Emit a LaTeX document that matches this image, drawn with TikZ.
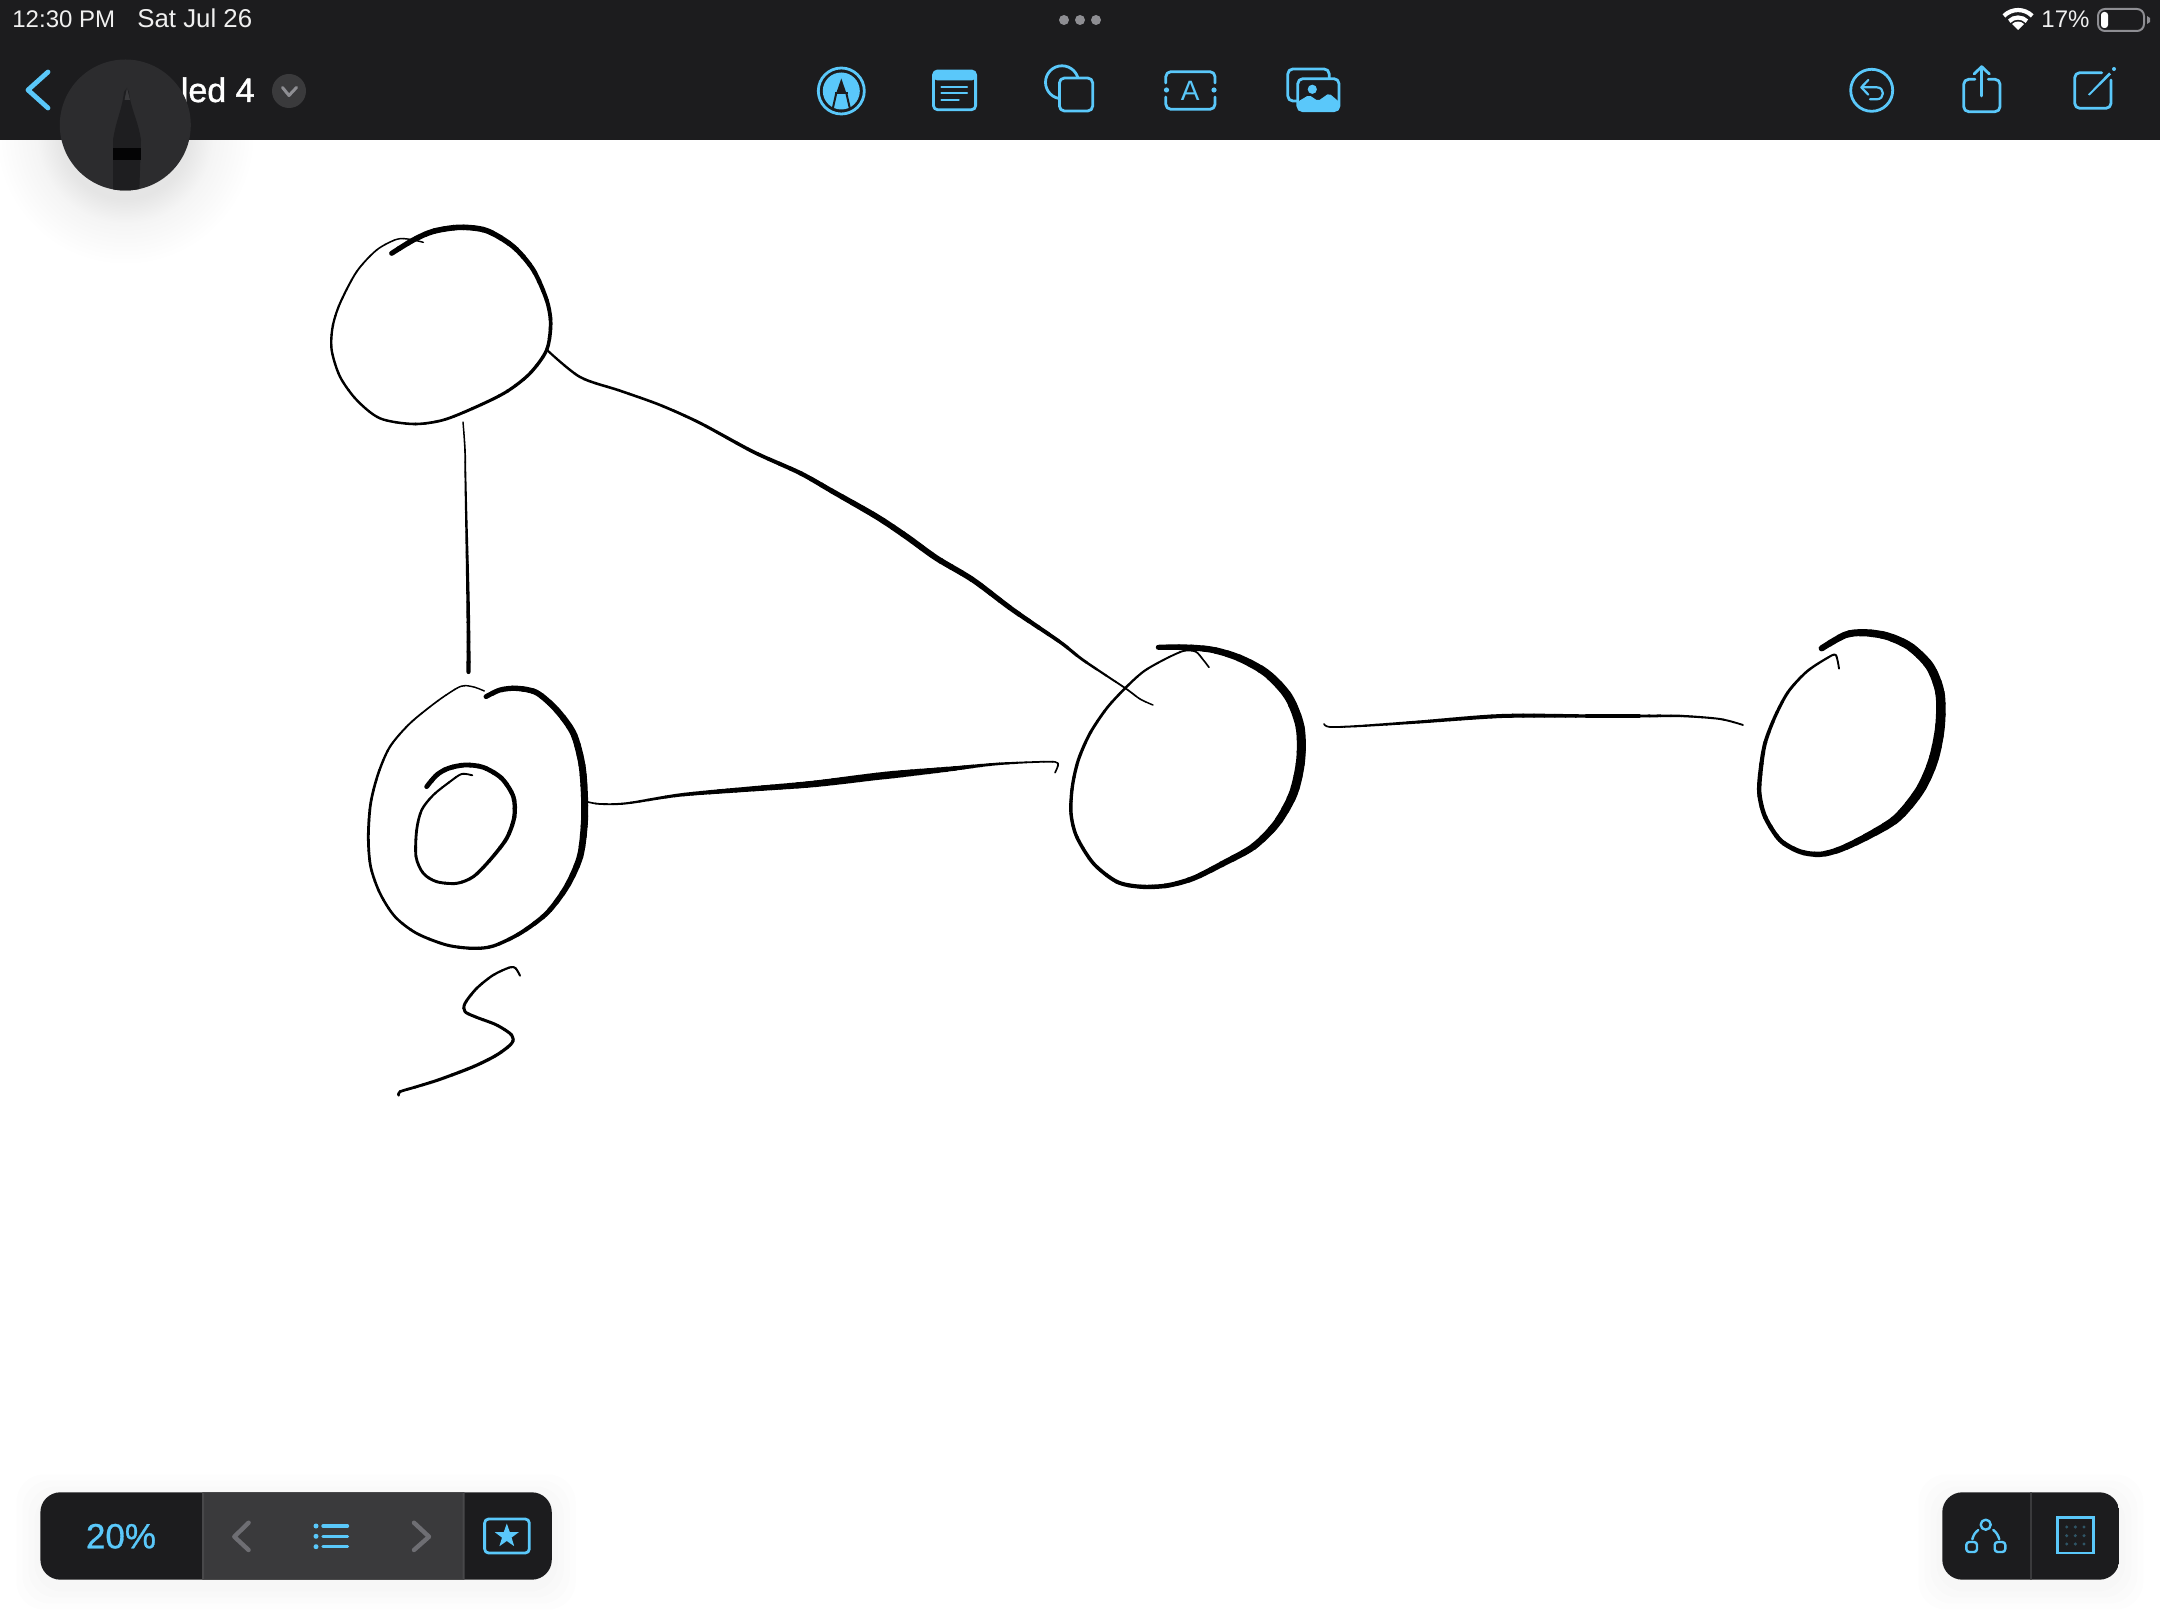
\documentclass[tikz,border=0pt]{standalone}
\usepackage{fontspec}
\setmainfont{Liberation Sans}
\newfontfamily\medfont[FakeBold=1.2]{Liberation Sans}
\newfontfamily\numfont[FakeBold=0.8]{Liberation Sans}
\definecolor{barbg}{HTML}{1C1C1E}
\definecolor{midbg}{HTML}{3A3A3C}
\definecolor{divbg}{HTML}{48484A}
\definecolor{ui}{HTML}{5AC8FA}
\definecolor{mutegray}{HTML}{6E6E73}
\definecolor{dotgray}{HTML}{8E8E93}
\definecolor{penbg}{HTML}{2C2C2E}
\definecolor{griddot}{HTML}{2F5566}
\pgfdeclareradialshading{softshadow}{\pgfpoint{0bp}{0bp}}{rgb(0bp)=(0.87,0.87,0.87);rgb(12.5bp)=(0.90,0.90,0.90);rgb(17bp)=(0.96,0.96,0.96);rgb(25bp)=(1,1,1);rgb(50bp)=(1,1,1)}
\tikzset{
  ink/.style={black,line cap=round,line join=round},
  zoomA/.style={x=0.16667pt,y=-0.16667pt},
  uiline/.style={draw=ui,line width=1.4pt,line cap=round,line join=round},
  uithin/.style={draw=ui,line width=1.1pt,line cap=round,line join=round},
  chev/.style={draw=mutegray,line width=2.2pt,line cap=round,line join=round},
  statustext/.style={text=white!94!black,font=\fontsize{12}{14}\selectfont,inner sep=0pt,anchor=base west},
}
% variable-width stroke: one smooth path (length #1 in pt), shown piecewise along its length
\newcommand\vs[3]{%
  \pgfmathtruncatemacro\vsnint{dim({#2})-1}
  \pgfmathtruncatemacro\vsn{\vsnint*5}
  \pgfmathsetmacro\vsunit{#1/\vsn}
  \foreach \vsi in {1,...,\vsn}{
    \pgfmathsetmacro\vst{(\vsi-0.5)/5}
    \pgfmathtruncatemacro\vsa{floor(\vst)}
    \pgfmathtruncatemacro\vsb{\vsa+1}
    \pgfmathsetmacro\vsf{\vst-\vsa}
    \pgfmathsetmacro\vsw{{#2}[\vsa]*(1-\vsf)+{#2}[\vsb]*\vsf}
    \pgfmathsetmacro\vsl{\vsi==\vsn ? \vsunit+30 : \vsunit+0.15}
    \pgfmathsetmacro\vss{\vsunit*(\vsi-1)}
    \pgfmathsetmacro\vsp{3000+\vsl-\vss}
    \draw[ink,line width=\vsw*0.5pt,dash pattern=on \vsl pt off 3000pt,dash phase=\vsp pt] plot[smooth] coordinates {#3};
  }
}
\begin{document}
\begin{tikzpicture}[x=0.5pt,y=-0.5pt]
\useasboundingbox (0,0) rectangle (2160,1620);
\fill[white] (0,0) rectangle (2160,1620);

% ---------- hand-drawn graph ----------
% vertex top-left
\begin{scope}[shift={(320,200)},zoomA]
\vs{345}{1.4,1.6,2,2.4,2.4,2.4,2.6,3,3.2,3.4,4,4.8,5.6,5.6,5}{(310,127)(270,118)(230,118)(170,150)(110,215)(60,310)(38,380)(35,450)(60,530)(110,600)(180,655)(280,672)(370,660)(470,620)(560,575)(630,520)(680,450)(692,370)(680,300)(640,210)(580,140)(500,92)(420,82)(340,94)(280,120)(215,160)}
\end{scope}
% vertex s, outer, inner ring and label
\begin{scope}[shift={(350,660)},zoomA]
\vs{385}{1.4,1.6,2,2.6,2.8,2.6,2.6,3,3.4,4.6,6,7,7,6.4,5.6,4.8}{(403,93)(375,82)(345,77)(320,85)(260,125)(180,190)(120,260)(85,340)(62,430)(55,530)(62,620)(90,700)(135,770)(200,820)(290,855)(370,865)(430,858)(510,820)(590,760)(650,680)(690,590)(703,490)(703,400)(695,310)(670,220)(620,150)(560,98)(500,85)(450,90)(408,110)}
\vs{194}{1.8,2.2,2.8,2.8,3,3.6,4.2,4.6,4.8,4.8}{(367,346)(335,342)(300,365)(250,405)(215,450)(200,510)(198,590)(220,640)(260,665)(320,670)(370,650)(420,600)(470,535)(493,470)(490,410)(455,355)(400,322)(345,315)(295,325)(260,345)(230,380)}
\vs{137}{2,2.4,3,3,3.2,3.2,3,2.6}{(510,947)(497,925)(480,922)(430,945)(380,985)(345,1030)(345,1055)(380,1072)(440,1095)(485,1125)(485,1150)(440,1185)(370,1220)(270,1258)(200,1280)(150,1295)(146,1306)}
\end{scope}
% vertex middle
\begin{scope}[shift={(1040,620)},zoomA]
\vs{396}{1.6,2,2.6,3.2,3.4,3.6,4.4,5.6,7,9,9,8,6.4,5}{(507,142)(490,120)(467,95)(430,93)(370,120)(310,155)(255,205)(200,265)(150,340)(115,420)(97,500)(93,580)(110,650)(160,730)(230,785)(300,800)(380,797)(460,775)(550,730)(640,680)(710,610)(760,520)(782,420)(780,320)(745,230)(680,160)(600,115)(520,90)(440,82)(355,82)}
\end{scope}
% vertex right
\begin{scope}[shift={(1720,610)},zoomA]
\vs{327}{1.8,2.6,3.4,4.4,4.4,5.2,7,9,10,9.5,8.5,7.4,6}{(357,176)(347,135)(320,145)(260,185)(205,245)(165,320)(135,400)(122,480)(118,550)(135,620)(180,690)(240,725)(300,733)(360,718)(440,680)(530,625)(600,540)(640,450)(660,350)(660,250)(630,170)(570,110)(500,78)(430,68)(375,75)(305,115)}
\end{scope}

% connectors
\coordinate (e1a) at (463,422);
\coordinate (e1b) at (468.5,672);
\vs{125}{1.4,1.8,2.4,3,3.6,4.2}{(e1a)(465,450)(465.5,482)(467,551)(468,600)(468.5,640)(e1b)}

\coordinate (e2a) at (547,350);
\coordinate (e2b) at (1153,705);
\vs{355}{2.2,2.6,2.6,3,3.6,4.6,5.6,6,5.6,5,3.6,2,1.4}{(e2a)(580,377)(620,390.7)(660,405)(700,423)(753,451.7)(800,473)(833,491.7)(876.7,516.7)(906.7,536.7)(936.7,558.3)(973,580)(1013,610)(1060,642)(1083,660)(1125,688)(1140,699)(e2b)}

\coordinate (e3a) at (586.7,801.7);
\coordinate (e3b) at (1055,772.7);
\vs{243}{1.6,2.2,3.2,4.4,5.4,6.4,7.2,7.4,5.4,3,1.8,1.6}{(e3a)(600,804)(626.7,803.3)(680,795)(746.7,789.3)(813,784)(880,776)(946.7,769.3)(996.7,764)(1046.7,761.7)(1058,763.3)(e3b)}

\coordinate (e4a) at (1324,724);
\coordinate (e4b) at (1743,725);
\vs{211}{1.6,2.4,3.2,4,4,3.4,3,2.2,1.8}{(e4a)(1330,727)(1360,726)(1419,722)(1502,716)(1584,716)(1640,716)(1681,716)(1720,719)(e4b)}

% ---------- top bar ----------
\shade[shading=softshadow] (125,135) circle [radius=130];
\fill[barbg] (0,0) rectangle (2160,140);
\node[statustext] (clock) at (12,28) {12:30 PM};
\node[statustext,font=\fontsize{12.9}{14}\selectfont] (date) at (137,28) {Sat Jul 26};
\fill[dotgray] (1064,20) circle [radius=5] (1080,20) circle [radius=5] (1096,20) circle [radius=5];
\node[statustext] (batt) at (2041,28) {17\%};
% wifi
\draw[white,line width=2.1pt] (2003.9,15.9) arc [start angle=-135,end angle=-45,radius=20];
\draw[white,line width=2.1pt] (2009.2,21.2) arc [start angle=-135,end angle=-45,radius=12.5];
\fill[white] (2018,30) -- (2012,24) arc [start angle=-135,end angle=-45,radius=8.5] -- cycle;
% battery
\draw[dotgray,line width=1pt,rounded corners=3.5pt] (2098,9) rectangle (2144,31);
\fill[white,rounded corners=1.5pt] (2101,12) rectangle (2108,28);
\fill[dotgray] (2147,16) -- (2150,18) -- (2150,22) -- (2147,24) -- cycle;
% back, title
\draw[uiline,line width=2.4pt] (48,72) -- (28,90) -- (48,108);
\node[font=\medfont\fontsize{17}{20}\selectfont,text=white,inner sep=0pt,anchor=base east] (title) at (255,102) {led 4};
\fill[midbg] (289,91) circle [radius=17];
\draw[dotgray,line width=1.5pt,line cap=round,line join=round] (282.5,87.5) -- (289,95.5) -- (296.5,87.5);
% pencil button
\fill[penbg] (125.3,125) circle [radius=65.5];
\begin{scope}
\clip (125.3,125) circle [radius=65.5];
\fill[barbg!85!penbg] (113,200) -- (113,140) .. controls (116,120) and (122,110) .. (124,92) -- (127,88) -- (129,92) .. controls (131,110) and (138,120) .. (141,140) -- (139,200) -- cycle;
\fill[midbg] (124.5,100) -- (127,88) -- (130,100) -- cycle;
\fill[black!85!barbg] (113,148) rectangle (141,160);
\end{scope}
% tool icons
\draw[uiline] (841.3,91) circle [radius=23];
\fill[ui] (841.3,91) circle [radius=18.5];
\fill[barbg] (841.3,78.5) -- (846.5,93.5) -- (836.1,93.5) -- cycle;
\draw[barbg,line width=1pt] (836.3,93) -- (832.7,109) (846.3,93) -- (850,109);
\draw[barbg,line width=1pt] (835,93.5) -- (847.6,93.5);
\draw[uiline,rounded corners=2pt] (933.5,71) rectangle (975.6,109.7);
\fill[ui,rounded corners=2pt] (933.5,71) rectangle (975.6,80.5);
\draw[uithin] (941.5,86.7) -- (967,86.7) (941.5,93.3) -- (967,93.3) (941.5,100.3) -- (958.7,100.3);
\draw[uiline] (1062,82.3) circle [radius=16.5];
\draw[uiline,fill=barbg,rounded corners=2.5pt] (1059.4,78) rectangle (1092.7,111);
\draw[uiline,rounded corners=2.5pt] (1165.8,83) -- (1165.8,71.7) -- (1215,71.7) -- (1215,83) (1215,97) -- (1215,109.3) -- (1165.8,109.3) -- (1165.8,97);
\fill[ui] (1166.5,90) circle [radius=2.6] (1214,90) circle [radius=2.6];
\node[font=\fontsize{14}{16}\selectfont,text=ui,inner sep=0pt] (iconA) at (1190.3,90.5) {A};
\draw[uiline,rounded corners=2.5pt] (1297,101) -- (1287.8,101) -- (1287.8,69) -- (1329.2,69) -- (1329.2,78);
\draw[uiline,fill=barbg,rounded corners=2.5pt] (1297.8,78.7) rectangle (1339,110.7);
\fill[ui,rounded corners=1pt] (1297.8,101.7) -- (1309,95) -- (1318,101) -- (1329,93.3) -- (1339,101.7) -- (1339,110.7) -- (1297.8,110.7) -- cycle;
\fill[ui] (1312.3,89.3) circle [radius=4.6];
% undo
\draw[uiline] (1871.7,90.3) circle [radius=21];
\draw[uithin] (1868.3,80) -- (1861.3,87.3) -- (1868.3,94.7);
\draw[uithin] (1861.3,87.3) -- (1876.7,87.3) .. controls (1885,87.3) and (1885,99.3) .. (1876.7,99.3) -- (1870,99.3);
% share
\draw[uiline,rounded corners=2.5pt] (1975,79.3) -- (1963.7,79.3) -- (1963.7,111.7) -- (2000,111.7) -- (2000,79.3) -- (1988.3,79.3);
\draw[uiline] (1981.7,96) -- (1981.7,66.7);
\draw[uiline] (1974,74) -- (1981.7,66.7) -- (1989.3,74);
% edit
\draw[uiline,rounded corners=2.5pt] (2101.7,72.7) -- (2074.7,72.7) -- (2074.7,108.3) -- (2111,108.3) -- (2111,80);
\fill[ui] (2088,94.5) -- (2109,72.5) -- (2111,74.5) -- (2089.5,95.5) -- cycle;
\fill[ui] (2114,69) circle [radius=2];

% ---------- bottom toolbars ----------
\foreach \g in {24,18,12,6}{
  \fill[black,opacity=0.008,rounded corners=14pt] (40.4-\g,1492.3-\g+6) rectangle (551.8+\g,1579.7+\g+6);
  \fill[black,opacity=0.008,rounded corners=14pt] (1942.3-\g,1492.3-\g+6) rectangle (2119.3+\g,1579.7+\g+6);
}
\begin{scope}
\clip[rounded corners=10pt] (40.4,1492.3) rectangle (551.8,1579.7);
\fill[barbg] (40.4,1492.3) rectangle (551.8,1579.7);
\fill[midbg] (202.5,1492.3) rectangle (463.6,1579.7);
\fill[divbg] (202,1492.3) rectangle (204,1579.7) (462.6,1492.3) rectangle (464.6,1579.7);
\end{scope}
\node[font=\numfont\fontsize{17.5}{20}\selectfont,text=ui,inner sep=0pt,anchor=base] (zoomlabel) at (121,1548.3) {20\%};
\draw[chev] (248.6,1522.7) -- (234.3,1536.7) -- (248.6,1550);
\draw[chev] (414,1522.7) -- (429,1536.7) -- (414,1550);
\fill[ui] (316,1526) circle [radius=2.5] (316,1536.3) circle [radius=2.5] (316,1546.7) circle [radius=2.5];
\draw[uiline,line width=1.7pt] (323,1526) -- (347.5,1526) (323,1536.3) -- (347.5,1536.3) (323,1546.7) -- (347.5,1546.7);
\draw[uiline,rounded corners=2pt] (484.6,1519) rectangle (529.3,1553);
\fill[ui] plot coordinates {(506.8,1523.5)(509.8,1532)(518.8,1532.2)(511.6,1537.6)(514.2,1546.2)(506.8,1541)(499.4,1546.2)(502,1537.6)(494.8,1532.2)(503.8,1532)} -- cycle;

\begin{scope}
\clip[rounded corners=10pt] (1942.3,1492.3) rectangle (2119.3,1579.7);
\fill[barbg] (1942.3,1492.3) rectangle (2119.3,1579.7);
\fill[midbg] (2030,1492.3) rectangle (2031.6,1579.7);
\end{scope}
\draw[uiline,line width=1.2pt] (1985.7,1524.7) circle [radius=5];
\draw[uiline,line width=1.2pt,rounded corners=1.5pt] (1966.3,1542) rectangle (1977,1552);
\draw[uiline,line width=1.2pt,rounded corners=1.5pt] (1994.7,1542) rectangle (2005.3,1552);
\draw[uiline,line width=1.2pt] (1972.3,1539.3) .. controls (1973.5,1535) and (1975,1532.5) .. (1978.3,1530);
\draw[uiline,line width=1.2pt] (1993.3,1530) .. controls (1996.5,1532.5) and (1998,1535) .. (1999.3,1539.3);
\draw[uiline,line width=1.3pt,line join=miter] (2057.7,1517.7) rectangle (2093.3,1553);
\foreach \px in {2066.7,2075.3,2084}{\foreach \py in {1527,1535.7,1544}{\fill[griddot] (\px,\py) circle [radius=1.7];}}
\end{tikzpicture}
\end{document}
